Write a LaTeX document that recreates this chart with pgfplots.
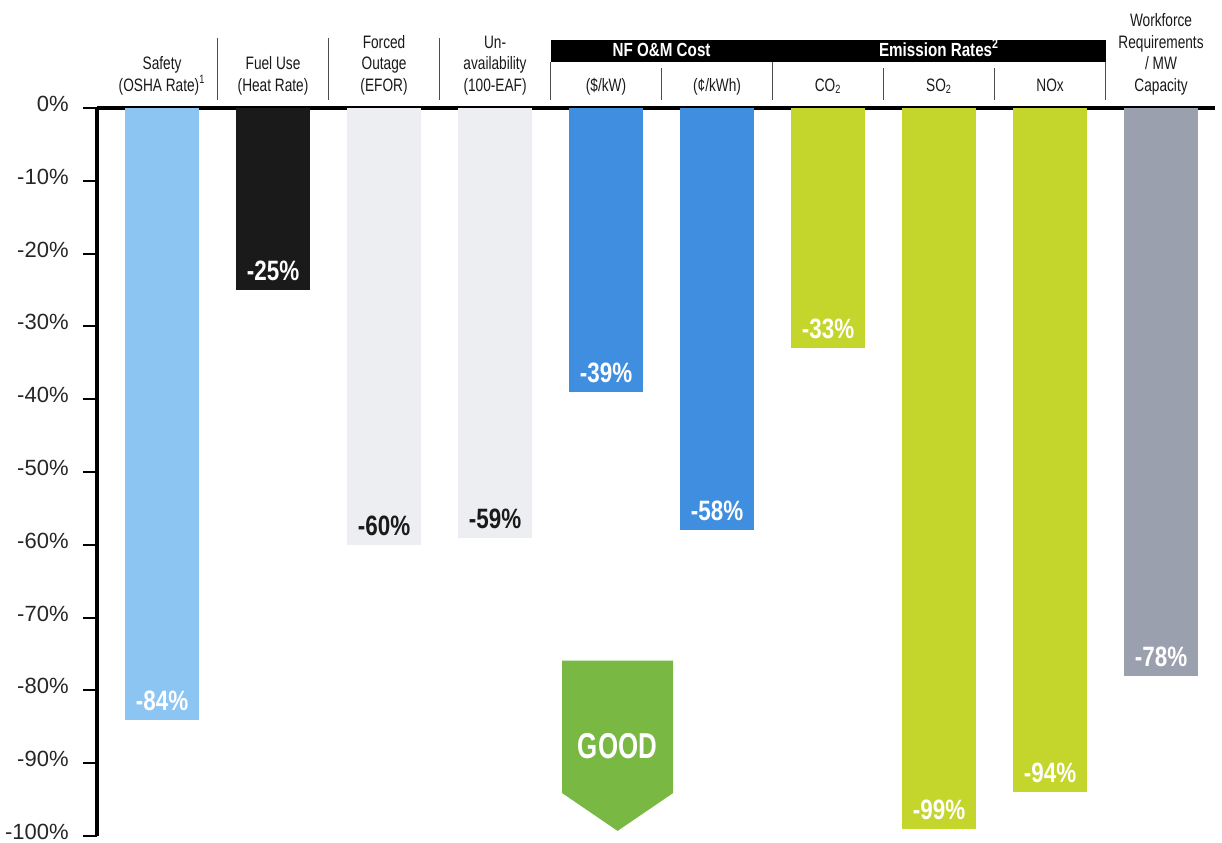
\documentclass[border=0pt]{standalone}
\usepackage{fontspec}
\setmainfont{Liberation Sans}
\newfontfamily\cond{Liberation Sans}[FakeStretch=0.8]
\newfontfamily\condh{Liberation Sans}[FakeStretch=0.76]
\newfontfamily\condn{Liberation Sans}[FakeStretch=0.72]
\usepackage{pgfplots}
\pgfplotsset{compat=1.18}
\definecolor{lblue}{HTML}{8CC4F2}
\definecolor{mblue}{HTML}{3F8EDF}
\definecolor{lgray}{HTML}{EDEEF1}
\definecolor{ygreen}{HTML}{C4D52C}
\definecolor{wgray}{HTML}{9AA0AE}
\definecolor{good}{HTML}{78B843}
\definecolor{dark}{HTML}{1A1A1A}
\pgfplotsset{mybar/.style={fill=#1, draw=none, bar shift=0pt}}
\newcommand\hd[3]{\node[anchor=base, inner sep=0pt, font=\condh\fontsize{9}{11}\selectfont, text=black!90] at (axis cs:#1,#2) {#3};}
\newcommand\dv[3]{\draw[black!70, line width=0.7pt] (axis cs:#1,#2) -- (axis cs:#1,#3);}
\begin{document}
\begin{tikzpicture}
\begin{axis}[
  scale only axis, width=559pt, height=364pt,
  xmin=-0.586, xmax=9.486, ymin=-100, ymax=0,
  axis x line=top, axis y line=left,
  axis line style={-, line width=2pt, black},
  xtick=\empty,
  ytick={-100,-90,...,0},
  yticklabel={\pgfmathprintnumber{\tick}\%},
  /pgf/number format/assume math mode=true,
  tick align=outside, major tick length=7pt,
  ytick style={line width=1pt, black},
  tick label style={font=\fontsize{11}{13}\selectfont, text=black!85},
  yticklabel style={inner sep=0.5pt, xshift=-6.5pt, yshift=2pt},
  ybar, bar width=37pt,
  clip=false,
  nodes near coords={\pgfmathprintnumber{\pgfplotspointmeta}\%},
  every node near coord/.append style={font=\cond\bfseries\fontsize{14}{16}\selectfont, anchor=center, yshift=9.5pt, text=white},
]
\addplot[mybar=lblue] coordinates {(0,-84)};
\addplot[mybar=dark] coordinates {(1,-25)};
\addplot[mybar=lgray, every node near coord/.append style={text=dark}] coordinates {(2,-60)};
\addplot[mybar=lgray, every node near coord/.append style={text=dark}] coordinates {(3,-59)};
\addplot[mybar=mblue] coordinates {(4,-39)};
\addplot[mybar=mblue] coordinates {(5,-58)};
\addplot[mybar=ygreen] coordinates {(6,-33)};
\addplot[mybar=ygreen] coordinates {(7,-99)};
\addplot[mybar=ygreen] coordinates {(8,-94)};
\addplot[mybar=wgray] coordinates {(9,-78)};

% GOOD arrow
\fill[good] (axis cs:3.604,-75.9) -- (axis cs:4.604,-75.9) -- (axis cs:4.604,-94.1) -- (axis cs:4.104,-99.3) -- (axis cs:3.604,-94.1) -- cycle;
\node[text=white, font=\condn\bfseries\fontsize{18}{20}\selectfont] at (axis cs:4.104,-87.7) {GOOD};

% header band
\fill[black] (axis cs:3.5,9.32) rectangle (axis cs:8.5,6.30);
\node[anchor=base, inner sep=0pt, text=white, font=\cond\bfseries\fontsize{9.5}{11}\selectfont] at (axis cs:4.5,7.12) {NF O\&M Cost};
\node[anchor=base, inner sep=0pt, text=white, font=\cond\bfseries\fontsize{9.5}{11}\selectfont] at (axis cs:7,7.12) {Emission Rates\textsuperscript{2}};

% dividers
\dv{0.5}{9.6}{1.1}\dv{1.5}{9.6}{1.1}\dv{2.5}{9.6}{1.1}
\dv{3.5}{6.3}{1.1}\dv{5.5}{6.3}{1.1}\dv{8.5}{6.3}{1.1}
\dv{4.5}{5.5}{1.1}\dv{6.5}{5.5}{1.1}\dv{7.5}{5.5}{1.1}

% header labels
\hd{0}{5.27}{Safety}\hd{0}{2.33}{(OSHA Rate)\textsuperscript{1}}
\hd{1}{5.27}{Fuel Use}\hd{1}{2.33}{(Heat Rate)}
\hd{2}{8.22}{Forced}\hd{2}{5.27}{Outage}\hd{2}{2.33}{(EFOR)}
\hd{3}{8.22}{Un-}\hd{3}{5.27}{availability}\hd{3}{2.33}{(100-EAF)}
\hd{4}{2.33}{(\$/kW)}\hd{5}{2.33}{(¢/kWh)}
\hd{6}{2.33}{CO\textsubscript{2}}\hd{7}{2.33}{SO\textsubscript{2}}\hd{8}{2.33}{NOx}
\hd{9}{11.16}{Workforce}\hd{9}{8.22}{Requirements}\hd{9}{5.27}{/ MW}\hd{9}{2.33}{Capacity}
\end{axis}
\pgfresetboundingbox
\path[use as bounding box] ([shift={(-48.5pt,-3pt)}]current axis.south west) rectangle ([shift={(562.5pt,418pt)}]current axis.south west);
\end{tikzpicture}
\end{document}
